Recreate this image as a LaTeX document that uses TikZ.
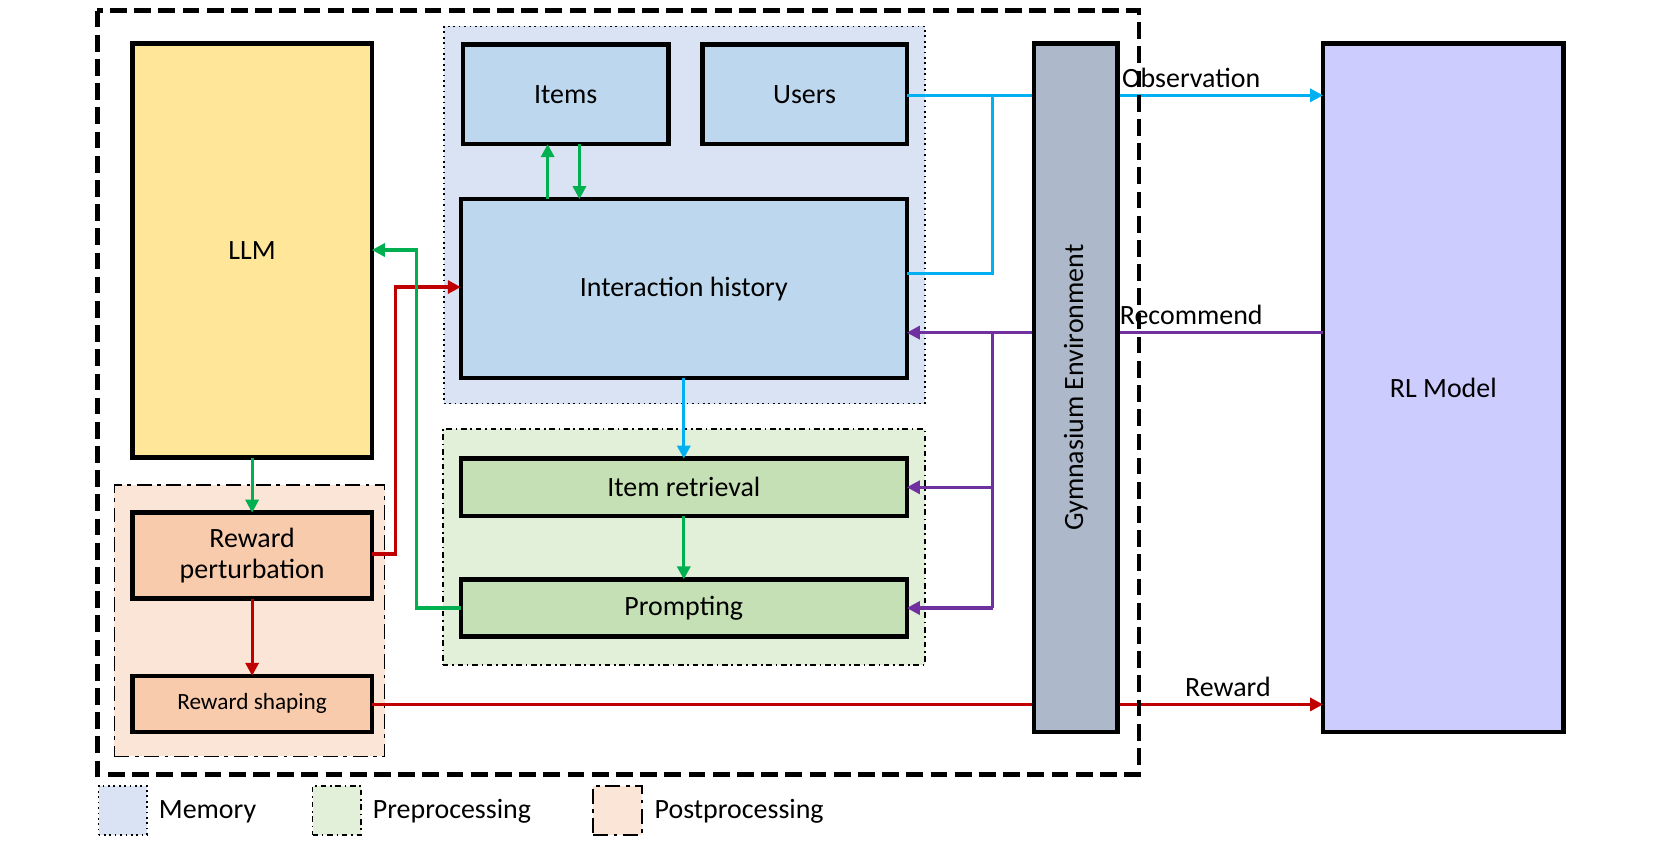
\documentclass[tikz,border=0pt]{standalone}
\usepackage{fontspec}
\setmainfont{Carlito}
\usetikzlibrary{arrows.meta}
\definecolor{cy}{HTML}{00B0F0}
\definecolor{pu}{HTML}{7030A0}
\definecolor{rd}{HTML}{C00000}
\definecolor{gr}{HTML}{00B050}
\newcommand\bx[7]{\node[#6,minimum width={(#3-#1)*0.02cm},minimum height={(#4-#2)*0.02cm}] (#5) at ({(#1+#3)/2},{(#2+#4)/2}) {#7};}
\begin{document}
\begin{tikzpicture}[x=0.02cm,y=-0.02cm,
  every node/.style={font=\fontsize{15}{18}\selectfont,inner sep=0pt,outer sep=0pt,align=center},
  box/.style={draw=black,line width=2.4pt,rectangle},
  grp/.style={draw=black,line width=0.9pt,rectangle},
  ar/.style={line width=1.7pt,-{Triangle[length=7pt,width=7pt]}},
  ln/.style={line width=1.7pt}]
\useasboundingbox (0,0) rectangle (1568,810);
% groups
\bx{419}{25}{873}{381}{mem}{grp,dotted,fill={rgb,255:red,218;green,227;blue,243}}{}
\bx{418}{405}{873}{628}{pre}{grp,dash dot,fill={rgb,255:red,226;green,240;blue,217}}{}
\bx{108}{458}{363}{714}{post}{grp,dash pattern=on 8pt off 3pt on 2pt off 3pt,fill={rgb,255:red,251;green,229;blue,214}}{}
% boxes
\bx{125}{41}{351}{432}{llm}{box,fill={rgb,255:red,255;green,230;blue,153}}{LLM}
\bx{437}{42}{631}{136}{items}{box,fill={rgb,255:red,189;green,215;blue,238}}{Items}
\bx{663}{42}{856}{136}{users}{box,fill={rgb,255:red,189;green,215;blue,238}}{Users}
\bx{435}{188}{856}{357}{hist}{box,fill={rgb,255:red,189;green,215;blue,238}}{Interaction history}
\bx{435}{433}{856}{487}{ret}{box,fill={rgb,255:red,197;green,224;blue,180}}{Item retrieval}
\bx{435}{547}{856}{601}{prm}{box,fill={rgb,255:red,197;green,224;blue,180}}{Prompting}
\bx{125}{484}{351}{565}{pert}{box,fill={rgb,255:red,248;green,203;blue,173}}{Reward\\[-1pt]perturbation}
\bx{125}{638}{351}{691}{shap}{box,fill={rgb,255:red,248;green,203;blue,173},font=\fontsize{12.5}{15}\selectfont}{Reward shaping}
\bx{1249}{41}{1476}{691}{rl}{box,fill={rgb,255:red,204;green,204;blue,255}}{RL Model}
% connectors
\coordinate (j1) at (937,90);
\draw[ln,cy] (users.east|-j1) -- (1000,90);
\draw[ln,cy] (hist.east|-0,258) -- (937,258) -- (j1);
\draw[ar,cy] (1000,90) -- (rl.west|-j1) node[pos=0.5,above=4pt,black]{Observation};
\draw[ar,cy] (hist.south) -- (ret.north);
\coordinate (j2) at (937,314);
\draw[ln,pu] (rl.west|-j2) -- (1000,314) node[pos=0.5,above=4pt,black]{Recommend};
\draw[ar,pu] (1000,314) -- (hist.east|-j2);
\draw[ln,pu] (j2) -- (937,574);
\draw[ar,pu] (937,460) -- (ret.east|-0,460);
\draw[ar,pu] (937,574) -- (prm.east|-0,574);
\draw[ar,rd] (shap.east|-0,665) -- (rl.west|-0,665) node[pos=0.9,above=4pt,black]{Reward};
\draw[ar,rd] (pert.east|-0,523) -- (373,523) -- (373,271) -- (hist.west|-0,271);
\draw[ar,rd] (pert.south) -- (shap.north);
\draw[ar,gr] (llm.south) -- (pert.north);
\draw[ar,gr] (prm.west|-0,574) -- (393,574) -- (393,236) -- (llm.east|-0,236);
\draw[ar,gr] (517,188) -- (517,136);
\draw[ar,gr] (547,136) -- (547,188);
\draw[ar,gr] (ret.south) -- (prm.north);
% gym on top
\bx{976}{41}{1055}{691}{gym}{box,fill={rgb,255:red,173;green,185;blue,202}}{\rotatebox{90}{Gymnasium Environment}}
% outer
\draw[line width=2.4pt,dash pattern=on 9pt off 4pt] (92,10) rectangle (1075,731);
% legend
\bx{93}{742}{139}{788}{lm}{grp,dotted,fill={rgb,255:red,218;green,227;blue,243}}{}
\bx{295}{742}{341}{788}{lp}{grp,dash dot,fill={rgb,255:red,226;green,240;blue,217}}{}
\bx{560}{742}{606}{788}{lq}{grp,dash pattern=on 8pt off 3pt on 2pt off 3pt,fill={rgb,255:red,251;green,229;blue,214}}{}
\node[anchor=west] (t1) at (150,766) {Memory};
\node[anchor=west] (t2) at (352,766) {Preprocessing};
\node[anchor=west] (t3) at (618,766) {Postprocessing};
\end{tikzpicture}
\end{document}
